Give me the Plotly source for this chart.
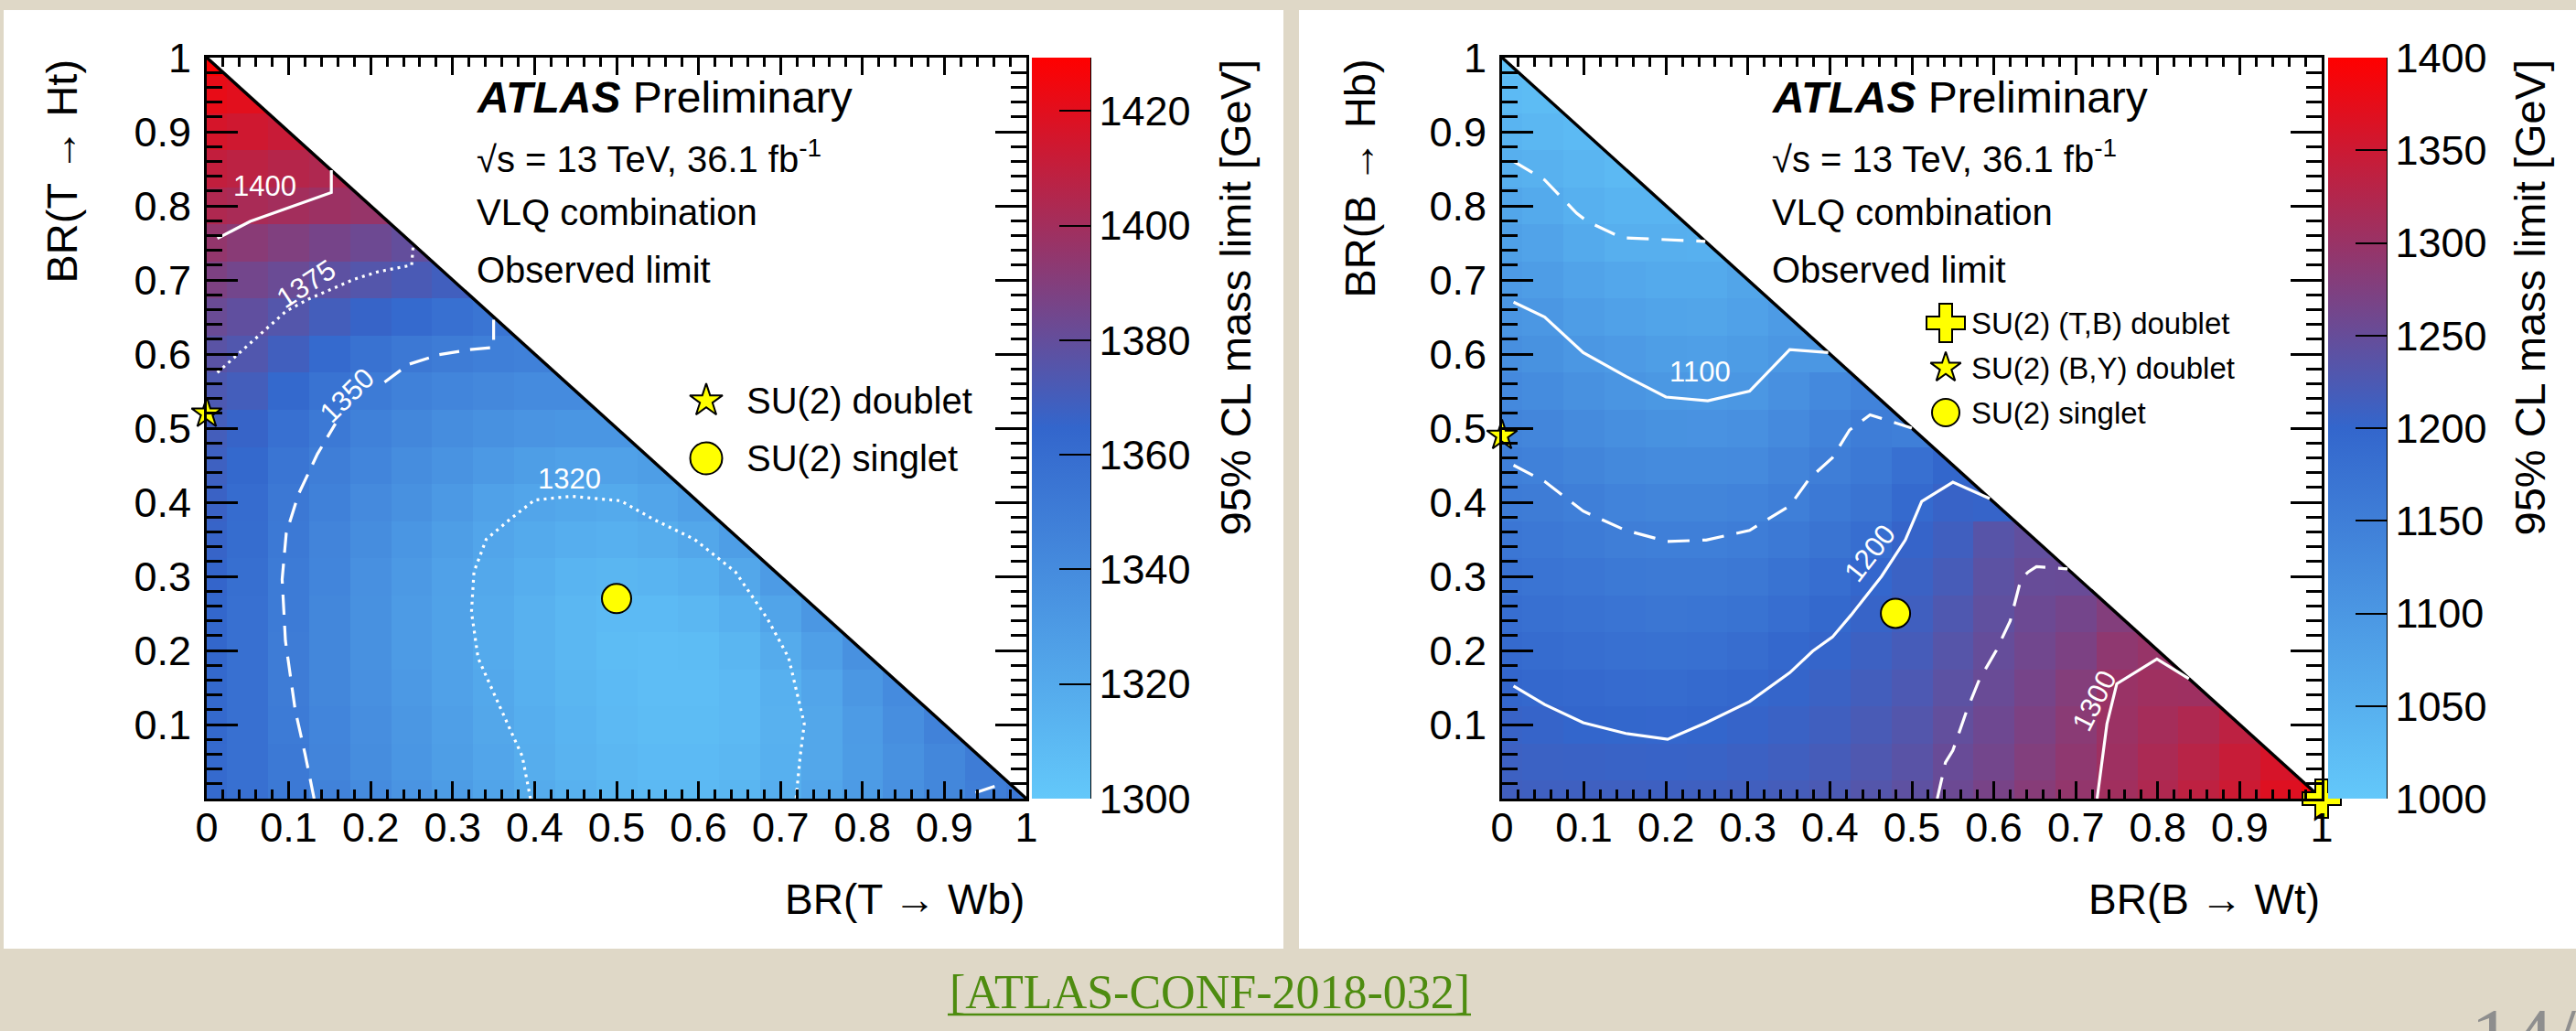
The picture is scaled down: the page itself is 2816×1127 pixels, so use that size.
import plotly.graph_objects as go

W, H = 2816, 1127
FONT = "Liberation Sans, Arial, Helvetica, sans-serif"
SERIF = "Liberation Serif, Times New Roman, serif"
ARROW = "→"

# ---------------- data ----------------
BR_BINS = [0.0, 0.05, 0.1, 0.15, 0.2, 0.25, 0.3, 0.35, 0.4, 0.45, 0.5,
           0.55, 0.6, 0.65, 0.7, 0.75, 0.8, 0.85, 0.9, 0.95, 1.0]
TICK_VALS = [0.0, 0.1, 0.2, 0.3, 0.4, 0.5, 0.6, 0.7, 0.8, 0.9, 1.0]
X_TICK_TEXT = ["0", "0.1", "0.2", "0.3", "0.4", "0.5", "0.6", "0.7", "0.8", "0.9", "1"]
Y_TICK_TEXT = ["", "0.1", "0.2", "0.3", "0.4", "0.5", "0.6", "0.7", "0.8", "0.9", "1"]

# T panel: rows of BR(T->Ht) = 0, 0.05, ... ; entries along BR(T->Wb) = 0, 0.05, ...
T_LIMIT_ROWS = [
    [1362, 1358, 1352, 1346, 1340, 1334, 1329, 1324, 1319, 1315, 1312, 1310, 1310, 1312, 1317, 1323, 1330, 1337, 1343, 1349, 1352],
    [1362, 1358, 1352, 1345, 1339, 1333, 1328, 1323, 1318, 1314, 1311, 1309, 1309, 1311, 1316, 1322, 1329, 1336, 1343, 1350],
    [1363, 1358, 1351, 1344, 1338, 1332, 1327, 1322, 1317, 1313, 1310, 1308, 1308, 1310, 1315, 1322, 1330, 1338, 1346],
    [1363, 1358, 1350, 1343, 1337, 1331, 1326, 1321, 1316, 1312, 1309, 1307, 1307, 1310, 1316, 1323, 1332, 1340],
    [1364, 1358, 1350, 1343, 1336, 1330, 1325, 1320, 1315, 1311, 1308, 1307, 1308, 1312, 1319, 1327, 1336],
    [1364, 1358, 1351, 1343, 1336, 1330, 1325, 1320, 1315, 1311, 1309, 1309, 1311, 1316, 1324, 1332],
    [1365, 1359, 1351, 1344, 1337, 1331, 1326, 1321, 1317, 1313, 1312, 1313, 1316, 1322, 1330],
    [1366, 1360, 1352, 1345, 1339, 1333, 1328, 1323, 1320, 1317, 1316, 1318, 1322, 1328],
    [1367, 1361, 1353, 1347, 1341, 1336, 1331, 1326, 1323, 1321, 1320, 1323, 1327],
    [1368, 1363, 1355, 1349, 1344, 1339, 1335, 1331, 1328, 1326, 1326, 1328],
    [1370, 1366, 1358, 1352, 1347, 1343, 1339, 1336, 1334, 1333, 1333],
    [1373, 1370, 1363, 1356, 1351, 1347, 1344, 1342, 1340, 1340],
    [1377, 1374, 1369, 1362, 1357, 1353, 1350, 1348, 1347],
    [1382, 1379, 1375, 1370, 1366, 1362, 1358, 1355],
    [1388, 1385, 1382, 1378, 1375, 1372, 1369],
    [1395, 1392, 1389, 1386, 1383, 1380],
    [1404, 1402, 1400, 1398, 1396],
    [1410, 1408, 1406, 1404],
    [1416, 1414, 1412],
    [1422, 1420],
    [1428],
]

# B panel: columns of BR(B->Wt) = 0, 0.05, ... ; entries along BR(B->Hb) = 0, 0.05, ...
B_LIMIT_COLS = [
    [1214, 1210, 1205, 1200, 1192, 1184, 1175, 1167, 1158, 1150, 1139, 1128, 1117, 1104, 1093, 1082, 1070, 1052, 1040, 1028, 1015],
    [1212, 1208, 1203, 1196, 1188, 1180, 1171, 1163, 1155, 1145, 1134, 1123, 1111, 1100, 1088, 1076, 1062, 1046, 1035, 1024],
    [1212, 1207, 1200, 1193, 1184, 1176, 1167, 1157, 1148, 1137, 1124, 1112, 1100, 1088, 1075, 1062, 1048, 1038, 1028],
    [1212, 1206, 1198, 1189, 1180, 1171, 1162, 1152, 1141, 1129, 1117, 1105, 1093, 1080, 1067, 1052, 1040, 1030],
    [1211, 1205, 1197, 1188, 1178, 1168, 1159, 1149, 1137, 1124, 1111, 1098, 1086, 1074, 1062, 1051, 1040],
    [1212, 1206, 1200, 1191, 1180, 1170, 1160, 1150, 1137, 1124, 1110, 1096, 1084, 1072, 1061, 1050],
    [1214, 1209, 1203, 1196, 1185, 1174, 1164, 1153, 1140, 1127, 1114, 1100, 1090, 1080, 1072],
    [1218, 1213, 1207, 1202, 1195, 1184, 1173, 1162, 1149, 1138, 1126, 1114, 1101, 1092],
    [1224, 1219, 1213, 1208, 1202, 1194, 1183, 1172, 1162, 1152, 1140, 1128, 1100],
    [1232, 1227, 1222, 1216, 1210, 1204, 1197, 1184, 1172, 1162, 1154, 1140],
    [1242, 1237, 1231, 1225, 1219, 1213, 1208, 1203, 1192, 1180, 1150],
    [1256, 1252, 1246, 1240, 1234, 1227, 1220, 1213, 1205, 1198],
    [1268, 1263, 1258, 1253, 1249, 1244, 1240, 1235, 1203],
    [1282, 1277, 1272, 1266, 1261, 1256, 1251, 1245],
    [1294, 1290, 1285, 1279, 1272, 1264, 1252],
    [1308, 1305, 1302, 1300, 1290, 1278],
    [1322, 1318, 1312, 1306, 1298],
    [1336, 1330, 1322, 1305],
    [1350, 1345, 1335],
    [1368, 1360],
    [1390],
]

T_ZMIN, T_ZMAX = 1300, 1429.3
B_ZMIN, B_ZMAX = 1000, 1400
T_CBAR_TICKS = [1300, 1320, 1340, 1360, 1380, 1400, 1420]
B_CBAR_TICKS = [1000, 1050, 1100, 1150, 1200, 1250, 1300, 1350, 1400]

# contour lines (BR_x, BR_y); None = gap
T_C1400 = [(0.013, 0.756), (0.053, 0.779), (0.152, 0.818), (0.152, 0.848)]
T_C1375 = [(0.013, 0.575), (0.038, 0.600), (0.071, 0.633), (0.097, 0.658), (0.124, 0.674),
           (0.149, 0.686), (0.180, 0.701), (0.209, 0.711), (0.250, 0.720), (0.252, 0.748)]
T_C1350 = [(0.131, 0.0), (0.120, 0.060), (0.108, 0.119), (0.096, 0.213), (0.092, 0.296),
           (0.097, 0.358), (0.112, 0.411), (0.135, 0.465), (0.157, 0.506), None,
           (0.217, 0.562), (0.246, 0.586), (0.283, 0.599), (0.321, 0.606), (0.350, 0.609),
           (0.350, 0.650), None, (0.938, 0.008), (0.965, 0.018)]
T_C1320 = [(0.395, 0.0), (0.385, 0.057), (0.356, 0.128), (0.331, 0.190), (0.323, 0.252),
           (0.326, 0.306), (0.341, 0.350), (0.370, 0.377), (0.400, 0.403), (0.445, 0.408),
           (0.505, 0.402), (0.545, 0.377), (0.595, 0.350), (0.645, 0.306), (0.684, 0.243),
           (0.710, 0.190), (0.729, 0.101), (0.724, 0.057), (0.719, 0.0)]

B_C1050 = [(0.014, 0.860), (0.052, 0.835), (0.091, 0.790), (0.104, 0.779), (0.146, 0.757),
           (0.198, 0.754), (0.248, 0.752)]
B_C1100 = [(0.014, 0.670), (0.052, 0.650), (0.099, 0.602), (0.151, 0.570), (0.200, 0.542),
           (0.251, 0.537), (0.302, 0.550), (0.351, 0.606), (0.398, 0.602)]
B_C1150 = [(0.014, 0.450), (0.052, 0.428), (0.099, 0.388), (0.151, 0.362), (0.202, 0.347),
           (0.249, 0.349), (0.302, 0.362), (0.351, 0.395), (0.375, 0.432), (0.403, 0.460),
           (0.424, 0.4975), (0.449, 0.518), (0.500, 0.500)]
B_C1200 = [(0.014, 0.152), (0.052, 0.127), (0.099, 0.1025), (0.151, 0.088), (0.202, 0.080),
           (0.249, 0.1025), (0.302, 0.131), (0.351, 0.170), (0.379, 0.199), (0.403, 0.218),
           (0.426, 0.248), (0.463, 0.300), (0.492, 0.349), (0.512, 0.401), (0.550, 0.427),
           (0.595, 0.405)]
B_C1250 = [(0.531, 0.0), (0.541, 0.049), (0.550, 0.065), (0.567, 0.119), (0.582, 0.160),
           (0.603, 0.200), (0.620, 0.240), (0.633, 0.296), (0.642, 0.306), (0.652, 0.313),
           (0.690, 0.310)]
B_C1300 = [(0.726, 0.0), (0.738, 0.101), (0.750, 0.155), (0.799, 0.1885), (0.838, 0.162)]

# contour labels: (text, x, y, angle)
T_LABELS = [("1400", 0.071, 0.827, 0), ("1375", 0.121, 0.695, -33),
            ("1350", 0.171, 0.544, -45), ("1320", 0.442, 0.431, 0)]
B_LABELS = [("1100", 0.242, 0.576, 0), ("1200", 0.449, 0.331, -52),
            ("1300", 0.723, 0.1325, -63)]

# benchmark points
T_DOUBLET = (0.0, 0.52)
T_SINGLET = (0.5, 0.27)
B_TB_DOUBLET = (1.0, 0.0)
B_BY_DOUBLET = (0.0, 0.49)
B_SINGLET = (0.48, 0.25)

# ---------------- layout geometry (pixels) ----------------
PLOT_X = {"T": (226, 1122), "B": (1642, 2538)}
Y_TOP, Y_BOT = 63, 873
CBAR_X = {"T": 1128, "B": 2545}
CBAR_W = 64


def fx(px):
    return px / W


def fy(py):
    return 1 - py / H


def to_data(panel, px, py):
    x0, x1 = PLOT_X[panel]
    return (px - x0) / (x1 - x0), (Y_BOT - py) / (Y_BOT - Y_TOP)


def grid_from_rows(rows):
    n = len(BR_BINS)
    z = [[None] * n for _ in range(n)]
    for yi, row in enumerate(rows):
        for xi, v in enumerate(row):
            z[yi][xi] = v
    return z


def grid_from_cols(cols):
    n = len(BR_BINS)
    z = [[None] * n for _ in range(n)]
    for xi, col in enumerate(cols):
        for yi, v in enumerate(col):
            z[yi][xi] = v
    return z


COLORSCALE = [[0.0, "#63C8FA"], [0.5, "#3366CC"], [1.0, "#FF0000"]]


def cbar(panel, ticks):
    return dict(
        thickness=CBAR_W, thicknessmode="pixels",
        len=Y_BOT - Y_TOP, lenmode="pixels",
        x=fx(CBAR_X[panel]), xanchor="left", xpad=0,
        y=fy((Y_TOP + Y_BOT) / 2), yanchor="middle", ypad=0,
        tickmode="array", tickvals=ticks,
        ticks="inside", ticklen=34, tickwidth=2, tickcolor="black",
        tickfont=dict(family=FONT, size=45, color="black"),
        outlinewidth=0,
    )


fig = go.Figure()

panels = [
    ("T", "x", "y", grid_from_rows(T_LIMIT_ROWS), T_ZMIN, T_ZMAX, T_CBAR_TICKS,
     [(T_C1400, "solid"), (T_C1375, "3px,5px"), (T_C1350, "22px,12px"), (T_C1320, "3px,5px")]),
    ("B", "x2", "y2", grid_from_cols(B_LIMIT_COLS), B_ZMIN, B_ZMAX, B_CBAR_TICKS,
     [(B_C1050, "24px,14px"), (B_C1100, "solid"), (B_C1150, "24px,14px"),
      (B_C1200, "solid"), (B_C1250, "24px,14px"), (B_C1300, "solid")]),
]

BR_LO, BR_HI = TICK_VALS[0], TICK_VALS[-1]

for panel, xa, ya, z, zmin, zmax, cticks, contours in panels:
    fig.add_trace(go.Heatmap(
        x=BR_BINS, y=BR_BINS, z=z, zmin=zmin, zmax=zmax, zsmooth=False,
        colorscale=COLORSCALE, colorbar=cbar(panel, cticks),
        hoverinfo="skip", xaxis=xa, yaxis=ya))
    # unphysical region (BR sum > 1) masked in white
    fig.add_trace(go.Scatter(
        x=[BR_LO, BR_HI, BR_HI, BR_LO], y=[BR_HI, BR_LO, BR_HI, BR_HI],
        fill="toself", fillcolor="white", mode="none",
        hoverinfo="skip", showlegend=False, xaxis=xa, yaxis=ya))
    fig.add_trace(go.Scatter(
        x=[BR_LO, BR_HI], y=[BR_HI, BR_LO], mode="lines",
        line=dict(color="black", width=3.5),
        hoverinfo="skip", showlegend=False, xaxis=xa, yaxis=ya))
    for pts, dash in contours:
        fig.add_trace(go.Scatter(
            x=[p[0] if p else None for p in pts],
            y=[p[1] if p else None for p in pts],
            mode="lines", line=dict(color="white", width=3.2, dash=dash),
            connectgaps=False, hoverinfo="skip", showlegend=False,
            cliponaxis=True, xaxis=xa, yaxis=ya))


def marker_trace(pt, symbol, size, xa, ya):
    return go.Scatter(
        x=[pt[0]], y=[pt[1]], mode="markers",
        marker=dict(symbol=symbol, size=size, color="#FFFF00",
                    line=dict(color="black", width=2)),
        cliponaxis=False, hoverinfo="skip", showlegend=False, xaxis=xa, yaxis=ya)


# points on the plots
fig.add_trace(marker_trace(T_DOUBLET, "star", 25, "x", "y"))
fig.add_trace(marker_trace(T_SINGLET, "circle", 32, "x", "y"))
fig.add_trace(marker_trace(B_BY_DOUBLET, "star", 25, "x2", "y2"))
fig.add_trace(marker_trace(B_SINGLET, "circle", 32, "x2", "y2"))
fig.add_trace(marker_trace(B_TB_DOUBLET, "cross", 35, "x2", "y2"))

# legend entries (custom, to match large symbols)
T_LEGEND = [("star", 27, 438, "SU(2) doublet"), ("circle", 35, 501, "SU(2) singlet")]
B_LEGEND = [("cross", 35, 353, "SU(2) (T,B) doublet"), ("star", 25, 402, "SU(2) (B,Y) doublet"),
            ("circle", 30, 451, "SU(2) singlet")]

annotations = []
for panel, xa, ya, legend, mx, tx, fsize in [("T", "x", "y", T_LEGEND, 772, 814, 40),
                                              ("B", "x2", "y2", B_LEGEND, 2127, 2153, 33)]:
    for sym, size, py, text in legend:
        fig.add_trace(marker_trace(to_data(panel, mx, py), sym, size, xa, ya))
        annotations.append(dict(x=fx(tx), y=fy(py), xref="paper", yref="paper",
                                text=text, showarrow=False, xanchor="left", yanchor="middle",
                                font=dict(family=FONT, size=fsize, color="black")))

# contour labels
for labels, xa, ya in [(T_LABELS, "x", "y"), (B_LABELS, "x2", "y2")]:
    for text, x, y, ang in labels:
        annotations.append(dict(x=x, y=y, xref=xa, yref=ya, text=text, showarrow=False,
                                textangle=ang, xanchor="center", yanchor="middle",
                                font=dict(family=FONT, size=31, color="white")))

# ATLAS text blocks, axis titles, colorbar titles
for panel, xtitle, ytitle, ytitle_x, ctitle_x in [
        ("T", "BR(T " + ARROW + " Wb)", "BR(T " + ARROW + " Ht)", 67, 1350),
        ("B", "BR(B " + ARROW + " Wt)", "BR(B " + ARROW + " Hb)", 1486, 2765)]:
    x0, x1 = PLOT_X[panel]
    tx = x0 + 293
    block = [
        (106, "<b><i>ATLAS</i></b> Preliminary", 48),
        (171, "√s = 13 TeV, 36.1 fb<sup>-1</sup>", 40),
        (232, "VLQ combination", 40),
        (295, "Observed limit", 40),
    ]
    for py, text, size in block:
        annotations.append(dict(x=fx(tx), y=fy(py), xref="paper", yref="paper", text=text,
                                showarrow=False, xanchor="left", yanchor="middle",
                                font=dict(family=FONT, size=size, color="black")))
    annotations.append(dict(x=fx(x1), y=fy(983), xref="paper", yref="paper", text=xtitle,
                            showarrow=False, xanchor="right", yanchor="middle",
                            font=dict(family=FONT, size=46, color="black")))
    annotations.append(dict(x=fx(ytitle_x), y=fy(Y_TOP), xref="paper", yref="paper", text=ytitle,
                            showarrow=False, textangle=-90, xanchor="center", yanchor="top",
                            font=dict(family=FONT, size=47, color="black")))
    annotations.append(dict(x=fx(ctitle_x), y=fy(Y_TOP), xref="paper", yref="paper",
                            text="95% CL mass limit [GeV]",
                            showarrow=False, textangle=-90, xanchor="center", yanchor="top",
                            font=dict(family=FONT, size=47, color="black")))

# reference link and page number
annotations.append(dict(x=fx(1322), y=fy(1084), xref="paper", yref="paper",
                        text="[ATLAS-CONF-2018-032]", showarrow=False,
                        xanchor="center", yanchor="middle",
                        font=dict(family=SERIF, size=52, color="#4E8C10")))
annotations.append(dict(x=fx(2699), y=fy(1134), xref="paper", yref="paper",
                        text="14/2", showarrow=False, xanchor="left", yanchor="middle",
                        font=dict(family=SERIF, size=90, color="#8E8E8E")))

shapes = [
    dict(type="rect", xref="paper", yref="paper", x0=fx(4), x1=fx(1403), y0=fy(1037), y1=fy(11),
         fillcolor="white", line=dict(width=0), layer="below"),
    dict(type="rect", xref="paper", yref="paper", x0=fx(1420), x1=fx(2816), y0=fy(1037), y1=fy(11),
         fillcolor="white", line=dict(width=0), layer="below"),
    dict(type="line", xref="paper", yref="paper", x0=fx(1036), x1=fx(1608), y0=fy(1109), y1=fy(1109),
         line=dict(color="#4E8C10", width=2.5)),
]
for panel in ("T", "B"):
    xr = CBAR_X[panel] + CBAR_W
    shapes.append(dict(type="line", xref="paper", yref="paper", x0=fx(xr), x1=fx(xr),
                       y0=fy(Y_BOT), y1=fy(Y_TOP), line=dict(color="black", width=2)))


def axis(domain, anchor, ticktext, ticklen, minorlen, standoff):
    return dict(
        domain=domain, anchor=anchor, range=[BR_LO, BR_HI],
        showgrid=False, zeroline=False, showline=True, linecolor="black", linewidth=3,
        mirror="ticks", ticks="inside", ticklen=ticklen, tickwidth=2.5, tickcolor="black",
        tickmode="array", tickvals=TICK_VALS, ticktext=ticktext,
        tickfont=dict(family=FONT, size=45, color="black"),
        ticklabelstandoff=standoff,
        minor=dict(ticks="inside", ticklen=minorlen, tickwidth=2.5, tickcolor="black",
                   dtick=0.02, tick0=0, showgrid=False),
        automargin=False,
        fixedrange=True,
    )


ydom = [fy(Y_BOT), fy(Y_TOP)]
fig.update_layout(
    width=W, height=H, autosize=False,
    margin=dict(l=0, r=0, t=0, b=0, pad=0, autoexpand=False),
    paper_bgcolor="#DFD8C7", plot_bgcolor="white",
    showlegend=False,
    xaxis=axis([fx(PLOT_X["T"][0]), fx(PLOT_X["T"][1])], "y", X_TICK_TEXT, 19, 10, -10),
    yaxis=axis(ydom, "x", Y_TICK_TEXT, 34, 17, 5),
    xaxis2=axis([fx(PLOT_X["B"][0]), fx(PLOT_X["B"][1])], "y2", X_TICK_TEXT, 19, 10, -10),
    yaxis2=axis(ydom, "x2", Y_TICK_TEXT, 34, 17, 5),
    annotations=annotations,
    shapes=shapes,
)

PAGE_FIX = ("document.documentElement.style.margin='0';"
            "document.body.style.margin='0';document.body.style.padding='0';"
            "document.body.style.overflow='hidden';"
            "document.documentElement.style.overflow='hidden';")

fig.write_html("out.html", post_script=PAGE_FIX)
